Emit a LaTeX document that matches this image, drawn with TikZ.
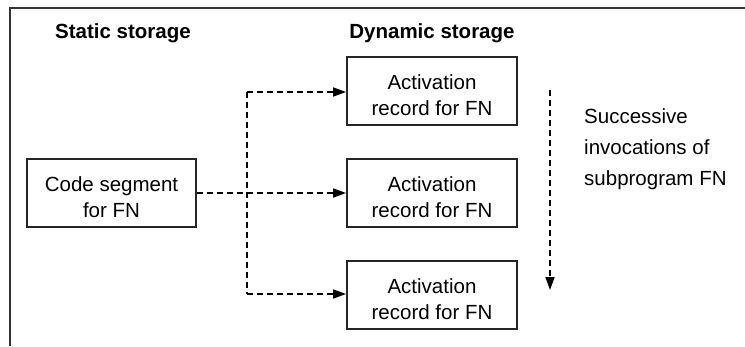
\documentclass[tikz,border=0pt]{standalone}
\usepackage{fontspec}
\setmainfont{Liberation Sans}
\usetikzlibrary{arrows.meta}
\newcommand{\topstrut}{\rule{0pt}{24pt}}
\begin{document}
\begin{tikzpicture}[x=1pt,y=-1pt,
  box/.style={draw=black!85, line width=1.8pt, minimum width=170pt, minimum height=68pt,
    align=center, inner sep=0pt, font=\fontsize{20.5}{26}\selectfont},
  title/.style={font=\fontsize{20.5}{24}\selectfont\bfseries},
  link/.style={line width=1.5pt, dash pattern=on 6pt off 4pt},
  tip/.style={-{Triangle[length=13pt,width=9pt]}},
  frame/.style={line width=2pt, draw=black!80}]
\useasboundingbox (0,0) rectangle (745,346);
\draw[frame] (9.5,346) -- (9.5,7.5) -- (745,7.5);
\node[title] (ts) at (123,33) {Static storage};
\node[title] (td) at (432,33) {Dynamic storage};
\node[box, minimum width=169pt] (code) at (111.5,193) {\topstrut Code segment\\for FN};
\node[box] (a1) at (432,91) {\topstrut Activation\\record for FN};
\node[box] (a2) at (432,193) {\topstrut Activation\\record for FN};
\node[box] (a3) at (432,295) {\topstrut Activation\\record for FN};
\coordinate (jt) at (247,92);
\coordinate (jb) at (247,294);
\draw[link] (jt) -- (jb);
\draw[link,tip] (jt) -- (a1.west |- jt);
\draw[link,tip] (jb) -- (a3.west |- jb);
\draw[link,tip] (code.east) -- (a2.west);
\coordinate (s1) at (550,90);
\coordinate (s2) at (550,290);
\draw[link,tip] (s1) -- (s2);
\node[anchor=west, align=left, inner sep=0pt, font=\fontsize{20.5}{31}\selectfont] (succ) at (584,149)
  {Successive\\invocations of\\subprogram FN};
\end{tikzpicture}
\end{document}
